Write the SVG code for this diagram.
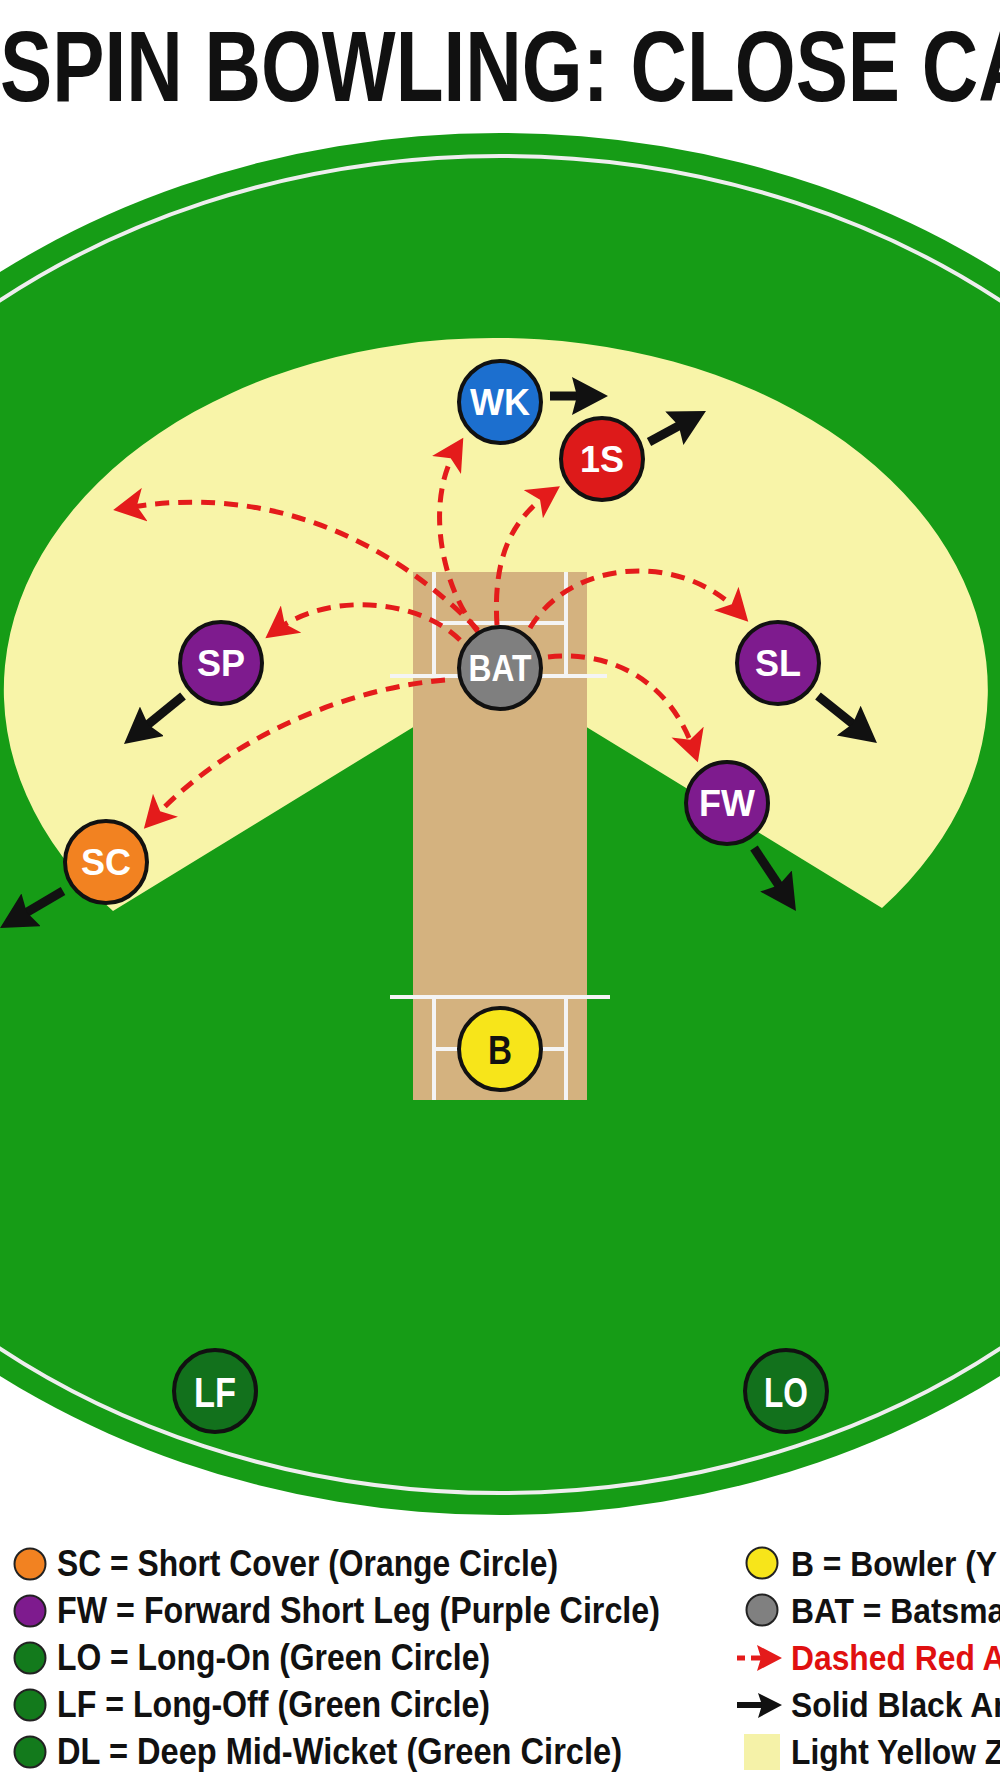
<svg xmlns="http://www.w3.org/2000/svg" width="1000" height="1792" viewBox="0 0 1000 1792">
<defs>
<style>
.node-c{stroke:#111;stroke-width:4}
.lbl{font-family:"Liberation Sans",Arial,sans-serif;font-weight:bold;font-size:36px;fill:#fff;text-anchor:middle}
.leg{font-family:"Liberation Sans",Arial,sans-serif;font-weight:bold;font-size:36px;fill:#111}
.crease{stroke:#f4f4f4;stroke-width:4;fill:none}
.red{fill:none;stroke:#e41b1b;stroke-width:5;stroke-dasharray:14 9;marker-end:url(#redHead)}
.blk{fill:none;stroke:#111;stroke-width:9;marker-end:url(#blkHead)}
.legc{stroke:#222;stroke-width:2}
</style>
<marker id="redHead" markerUnits="userSpaceOnUse" markerWidth="34" markerHeight="34" viewBox="0 0 34 34" refX="20" refY="17" orient="auto">
<path d="M0,0 L32,17 L0,34 L8,17 Z" fill="#e41b1b"/>
</marker>
<marker id="blkHead" markerUnits="userSpaceOnUse" markerWidth="38" markerHeight="38" viewBox="0 0 38 38" refX="11" refY="19" orient="auto">
<path d="M0,0 L36,19 L0,38 L5,19 Z" fill="#111"/>
</marker>
</defs>
<rect x="0" y="0" width="1000" height="1792" fill="#ffffff"/>

<g id="field">
<ellipse cx="500" cy="824" rx="831" ry="691" fill="#169c16"/>
<ellipse cx="500" cy="824.5" rx="805" ry="668.5" fill="none" stroke="#eeeeee" stroke-width="4"/>
<path id="close-zone" d="M500,674 L113,911 A492,352 0 1 1 882,908 Z" fill="#f8f4a8"/>
<rect id="pitch" x="413" y="572" width="174" height="528" fill="#d4b27f"/>
<g id="creases">
<line class="crease" x1="390" y1="676" x2="607" y2="676"/>
<line class="crease" x1="434" y1="572" x2="434" y2="676"/>
<line class="crease" x1="566" y1="572" x2="566" y2="676"/>
<line class="crease" x1="434" y1="623" x2="566" y2="623" stroke-width="3"/>
<line class="crease" x1="390" y1="997" x2="610" y2="997" stroke-width="5"/>
<line class="crease" x1="434" y1="997" x2="434" y2="1100"/>
<line class="crease" x1="566" y1="997" x2="566" y2="1100"/>
<line class="crease" x1="434" y1="1049" x2="566" y2="1049" stroke-width="3"/>
</g>
</g>

<g id="connectors">
<path class="red" d="M478,630 C420,570 300,478 125,508"/>
<path class="red" d="M478,632 C440,585 425,500 457,448"/>
<path class="red" d="M497,625 C493,560 510,520 550,493"/>
<path class="red" d="M460,640 C420,600 330,590 275,631"/>
<path class="red" d="M445,680 C350,688 230,735 152,820"/>
<path class="red" d="M530,628 C570,560 680,550 740,613"/>
<path class="red" d="M548,657 C610,650 670,680 694,751"/>
<line class="blk" x1="550" y1="396" x2="583" y2="396"/>
<line class="blk" x1="649" y1="442" x2="684" y2="423"/>
<line class="blk" x1="183" y1="696" x2="143.4" y2="728.2"/>
<line class="blk" x1="63" y1="891" x2="21.6" y2="915.4"/>
<line class="blk" x1="818" y1="696" x2="857.4" y2="727.4"/>
<line class="blk" x1="754" y1="848" x2="782.1" y2="890.2"/>
</g>

<g id="node-WK"><circle class="node-c" cx="500" cy="402" r="41" fill="#1c6fcf"/><text class="lbl" x="500" y="415">WK</text></g>
<g id="node-1S"><circle class="node-c" cx="602" cy="459" r="41" fill="#dd1a1a"/><text class="lbl" x="602" y="472">1S</text></g>
<g id="node-SP"><circle class="node-c" cx="221" cy="663" r="41" fill="#7e1b8e"/><text class="lbl" x="221" y="676">SP</text></g>
<g id="node-BAT"><circle class="node-c" cx="500" cy="668" r="41" fill="#7f7f7f"/><text class="lbl" x="500" y="681" textLength="63" lengthAdjust="spacingAndGlyphs">BAT</text></g>
<g id="node-SL"><circle class="node-c" cx="778" cy="663" r="41" fill="#7e1b8e"/><text class="lbl" x="778" y="676">SL</text></g>
<g id="node-FW"><circle class="node-c" cx="727" cy="803" r="41" fill="#7e1b8e"/><text class="lbl" x="727" y="816">FW</text></g>
<g id="node-SC"><circle class="node-c" cx="106" cy="862" r="41" fill="#f28221"/><text class="lbl" x="106" y="875">SC</text></g>
<g id="node-B"><circle class="node-c" cx="500" cy="1049" r="41" fill="#f7e51a"/><text class="lbl" x="500" y="1064" style="font-size:40px;fill:#111" textLength="24" lengthAdjust="spacingAndGlyphs">B</text></g>
<g id="node-LF"><circle class="node-c" cx="215" cy="1391" r="41" fill="#12711c"/><text class="lbl" x="215" y="1407" style="font-size:43px" textLength="42" lengthAdjust="spacingAndGlyphs">LF</text></g>
<g id="node-LO"><circle class="node-c" cx="786" cy="1391" r="41" fill="#12711c"/><text class="lbl" x="786" y="1407" style="font-size:43px" textLength="44" lengthAdjust="spacingAndGlyphs">LO</text></g>

<g id="legend">
<circle class="legc" cx="30" cy="1564" r="15.5" fill="#f28221"/>
<circle class="legc" cx="30" cy="1611" r="15.5" fill="#7e1b8e"/>
<circle class="legc" cx="30" cy="1658" r="15.5" fill="#137a1c"/>
<circle class="legc" cx="30" cy="1705" r="15.5" fill="#137a1c"/>
<circle class="legc" cx="30" cy="1752" r="15.5" fill="#137a1c"/>
<text class="leg" x="57" y="1576" textLength="501" lengthAdjust="spacingAndGlyphs">SC = Short Cover (Orange Circle)</text>
<text class="leg" x="57" y="1623" textLength="603" lengthAdjust="spacingAndGlyphs">FW = Forward Short Leg (Purple Circle)</text>
<text class="leg" x="57" y="1670" textLength="433" lengthAdjust="spacingAndGlyphs">LO = Long-On (Green Circle)</text>
<text class="leg" x="57" y="1717" textLength="433" lengthAdjust="spacingAndGlyphs">LF = Long-Off (Green Circle)</text>
<text class="leg" x="57" y="1764" textLength="565" lengthAdjust="spacingAndGlyphs">DL = Deep Mid-Wicket (Green Circle)</text>

<circle class="legc" cx="762" cy="1563" r="15.5" fill="#f7e51a"/>
<circle class="legc" cx="762" cy="1610" r="15.5" fill="#808080"/>
<line x1="737" y1="1658" x2="745" y2="1658" stroke="#e41b1b" stroke-width="5"/>
<line x1="751" y1="1658" x2="762" y2="1658" stroke="#e41b1b" stroke-width="5"/>
<path d="M757,1645 L782,1658 L757,1671 L761,1658 Z" fill="#e41b1b"/>
<line x1="737" y1="1705" x2="764" y2="1705" stroke="#111" stroke-width="6"/>
<path d="M758,1693 L782,1705 L758,1718 L762,1705 Z" fill="#111"/>
<rect x="744" y="1734" width="36" height="36" fill="#f5f2a8"/>
<g transform="translate(791,0) scale(0.884,1)">
<text class="leg" x="0" y="1576">B = Bowler (Y</text>
<text class="leg" x="0" y="1623">BAT = Batsma</text>
<text class="leg" x="0" y="1670" style="fill:#e01010">Dashed Red A</text>
<text class="leg" x="0" y="1717">Solid Black Ar</text>
<text class="leg" x="0" y="1764">Light Yellow Z</text>
</g>
</g>

<g id="title">
<text x="0" y="101" transform="scale(0.775,1)" style="font-family:'Liberation Sans',Arial,sans-serif;font-weight:bold;font-size:101px;fill:#111">SPIN BOWLING: CLOSE CA</text>
</g>
</svg>
